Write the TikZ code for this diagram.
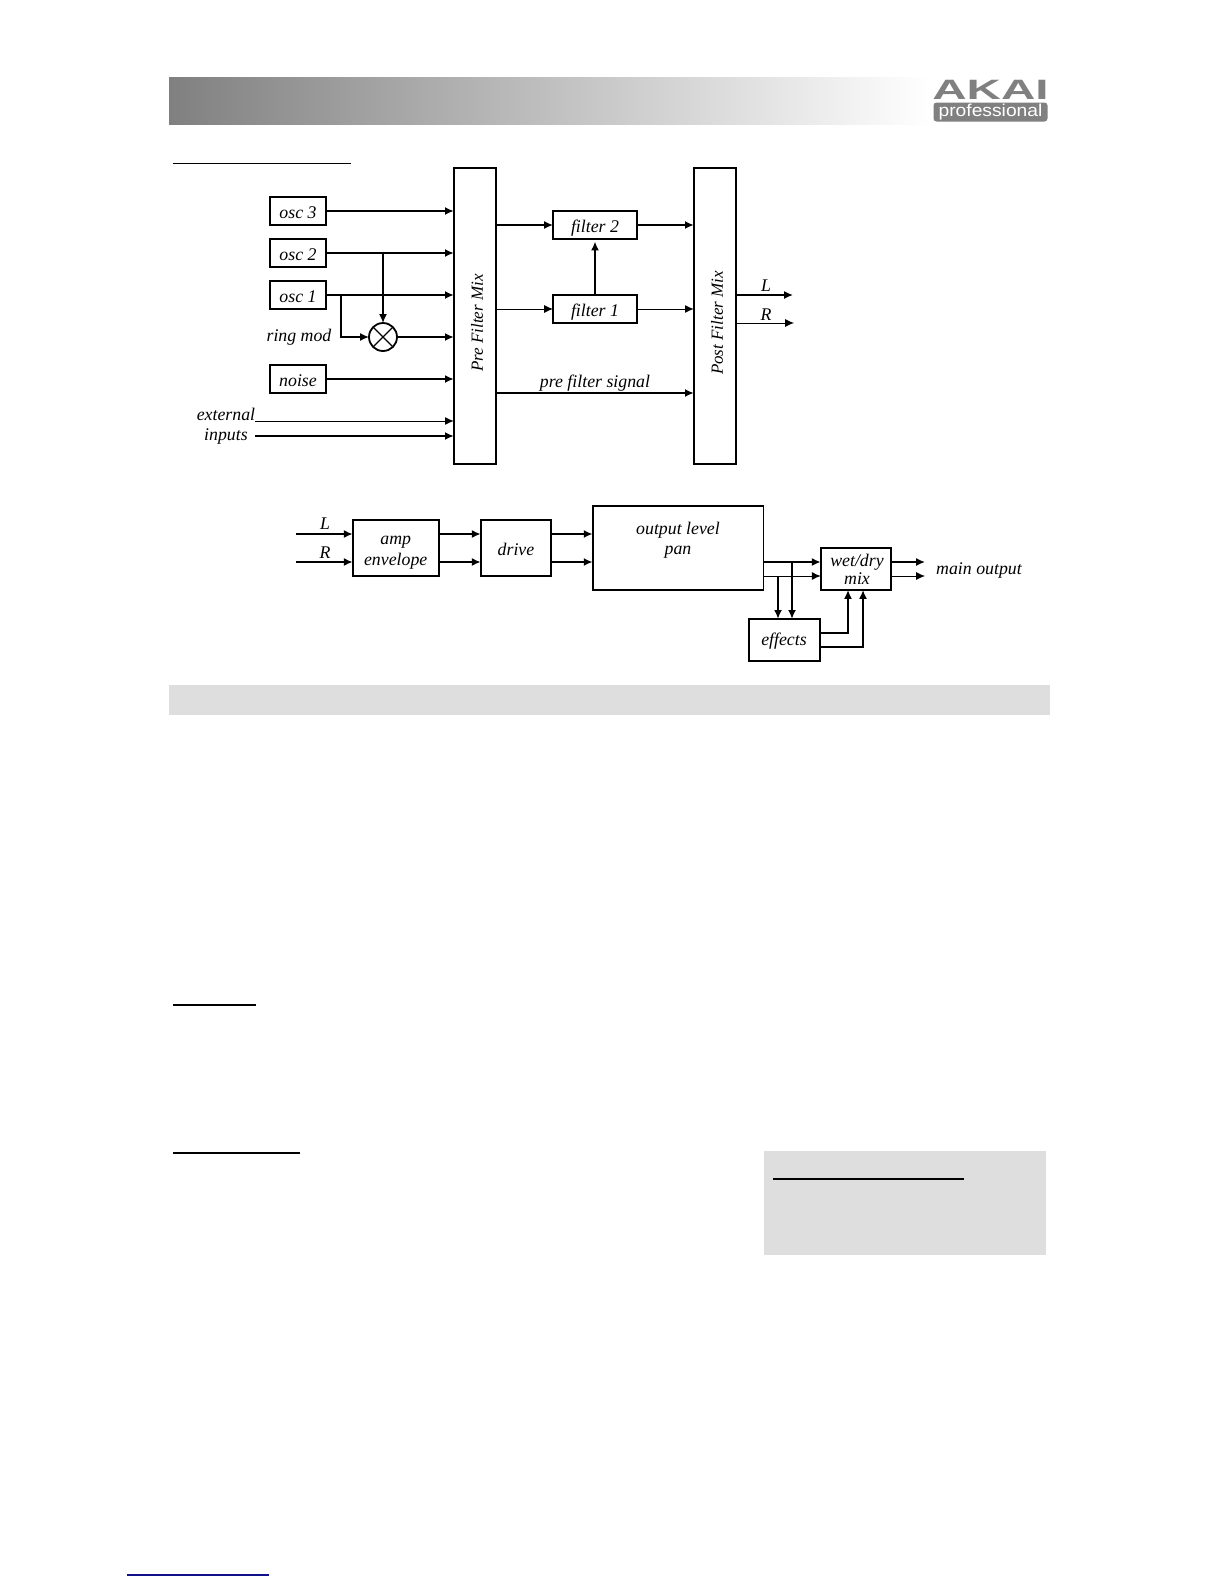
\documentclass[tikz,border=0pt]{standalone}
\usepackage{fontspec}
\usepackage{graphicx}
\setmainfont{Liberation Serif}
\newfontfamily\logofont{Liberation Sans}
\usetikzlibrary{arrows.meta}
\definecolor{bandgray}{HTML}{DEDEDE}
\definecolor{logogray}{HTML}{808080}
\definecolor{linkblue}{HTML}{10108A}
\tikzset{
  tag/.style={inner sep=0pt, align=center, font=\fontsize{8.9bp}{10bp}\selectfont\itshape},
  sidetag/.style={tag, rotate=90, font=\fontsize{8.5bp}{10bp}\selectfont\itshape},
  blockbox/.style={draw, line width=0.9bp, inner sep=0pt, outer sep=0pt, align=center, font=\fontsize{8.9bp}{10bp}\selectfont\itshape},
  oscbox/.style={blockbox, minimum width=28.2bp, minimum height=14.2bp, text height=7.4bp, text depth=0pt},
  filterbox/.style={blockbox, minimum width=42bp, minimum height=14.2bp, text height=7.7bp, text depth=0pt},
  mixbox/.style={blockbox, minimum width=21.2bp, minimum height=148.2bp},
  sigthick/.style={line width=0.85bp, -{Latex[length=4.4bp,width=4bp]}},
  sigthin/.style={line width=0.5bp, -{Latex[length=4.4bp,width=4bp]}},
  rulebar/.style={line width=0.6bp}
}
\begin{document}
\begin{tikzpicture}[x=0.5bp, y=-0.5bp]

  \useasboundingbox (0,0) rectangle (1224,1584);

  % Page furniture
  \shade[left color=logogray, right color=white] (169,77) rectangle (930,124);
  \fill[bandgray] (169,685) rectangle (1050,715);
  \fill[bandgray] (764,1151) rectangle (1046,1255);
  \draw[rulebar] (173,163.5) -- (351,163.5);
  \draw[rulebar] (173,1005) -- (256,1005);
  \draw[rulebar] (173,1153) -- (300,1153);
  \draw[rulebar] (773,1179) -- (964,1179);
  \draw[rulebar, linkblue] (127,1575) -- (269,1575);

  % Logo
  \node[inner sep=0pt, text=logogray, font=\logofont\bfseries\fontsize{14bp}{14bp}\selectfont] (akai) at (990.5,90) {\scalebox{1.7}[1]{AKAI}};
  \node[fill=logogray, rounded corners=1.5bp, inner sep=0pt, minimum width=57bp, minimum height=9.5bp, text=white, font=\logofont\fontsize{8.6bp}{8.6bp}\selectfont] (pro) at (990.5,112) {\scalebox{1.12}[1]{professional}};

  % Upper signal path
  \node[oscbox] (osc3) at (298,211) {osc 3};
  \node[oscbox] (osc2) at (298,253) {osc 2};
  \node[oscbox] (osc1) at (298,295) {osc 1};
  \node[oscbox] (noise) at (298,379) {noise};

  \node[blockbox, circle, minimum size=14bp] (ring) at (383,337) {};
  \node[tag] (ringtag) at (299,337) {ring mod};
  \node[tag] (exttag) at (226,414) {external};
  \node[tag] (inptag) at (226,436) {inputs};

  \node[mixbox] (premix) at (475,316) {};
  \node[mixbox] (postmix) at (715,316) {};
  \node[sidetag] (pretag) at (477,323) {Pre Filter Mix};
  \node[sidetag] (posttag) at (717,323) {Post Filter Mix};

  \node[filterbox] (filter2) at (595,225) {filter 2};
  \node[filterbox] (filter1) at (595,309) {filter 1};
  \node[tag] (pretext) at (595,383) {pre filter signal};

  \node[tag] (ltag) at (766,286) {L};
  \node[tag] (rtag) at (766,315) {R};

  \coordinate (oscbranch) at (341,295);
  \coordinate (extin) at (255,421);
  \coordinate (inpin) at (255,436);
  \coordinate (lout) at (793,295);
  \coordinate (rout) at (794,323);
  \coordinate (sigout) at (496,393);

  % Arrows
  \draw[sigthick] (osc3.east) -- (osc3 -| premix.west);
  \draw[sigthick] (osc2.east) -- (osc2 -| premix.west);
  \draw[sigthick] (osc1.east) -- (osc1 -| premix.west);
  \draw[sigthick] (noise.east) -- (noise -| premix.west);
  \draw[sigthick] (osc2 -| ring.north) -- (ring.north);
  \draw[sigthick] (oscbranch) |- (ring.west);
  \draw[sigthick] (ring.east) -- (ring -| premix.west);
  \draw[line width=0.6bp] (ring.north west) -- (ring.south east);
  \draw[line width=0.6bp] (ring.north east) -- (ring.south west);
  \draw[sigthin] (extin) -- (extin -| premix.west);
  \draw[sigthick] (inpin) -- (inpin -| premix.west);

  \draw[sigthick] (filter2 -| premix.east) -- (filter2.west);
  \draw[sigthin] (filter1 -| premix.east) -- (filter1.west);
  \draw[sigthick] (filter2.east) -- (filter2 -| postmix.west);
  \draw[sigthin] (filter1.east) -- (filter1 -| postmix.west);
  \draw[sigthick, shorten >=1.2bp] (filter1.north) -- (filter2.south);
  \draw[sigthick] (sigout) -- (sigout -| postmix.west);
  \draw[sigthick] (lout -| postmix.east) -- (lout);
  \draw[sigthin] (rout -| postmix.east) -- (rout);

  % Lower signal path
  \node[blockbox, minimum width=43bp, minimum height=28.3bp] (amp) at (395.7,548) {};
  \node[blockbox, minimum width=35.3bp, minimum height=28.3bp] (drive) at (516,548) {};
  \node[blockbox, minimum width=85.4bp, minimum height=42.2bp] (level) at (678,548) {};
  \node[blockbox, minimum width=35.3bp, minimum height=21.3bp] (wetdry) at (856,569) {};
  \node[blockbox, minimum width=35.6bp, minimum height=21.2bp] (effects) at (784.4,640) {};

  \node[tag] (amptag) at (395.7,552.5) {amp\\[0.2bp]envelope};
  \node[tag] (drivetag) at (516,549) {drive};
  \node[tag] (efftag) at (784,641) {effects};
  \node[tag] (leveltag) at (678,540) {output level\\[0.2bp]pan};
  \node[tag] (wettag) at (857,569) {wet/dry\\[-1bp]mix};
  \node[tag] (maintag) at (979,570.5) {main output};
  \node[tag] (inltag) at (325,524) {L};
  \node[tag] (inrtag) at (325,553) {R};

  \coordinate (inl) at (296,534);
  \coordinate (inr) at (296,562);
  \coordinate (lvll) at (763.4,562);
  \coordinate (lvlr) at (763.4,576);
  \coordinate (mainl) at (925,562);
  \coordinate (mainr) at (925,576);
  \coordinate (fxa) at (778,576);
  \coordinate (fxb) at (792,562);
  \coordinate (wetl) at (848,590);
  \coordinate (wetr) at (863,590);
  \coordinate (fxouta) at (820.7,633);
  \coordinate (fxoutb) at (820.7,647);

  % Arrows
  \draw[sigthick] (inl) -- (inl -| amp.west);
  \draw[sigthick] (inr) -- (inr -| amp.west);
  \draw[sigthick] (inl -| amp.east) -- (inl -| drive.west);
  \draw[sigthick] (inr -| amp.east) -- (inr -| drive.west);
  \draw[sigthick] (inl -| drive.east) -- (inl -| level.west);
  \draw[sigthick] (inr -| drive.east) -- (inr -| level.west);
  \draw[sigthick] (lvll) -- (lvll -| wetdry.west);
  \draw[sigthin] (lvlr) -- (lvlr -| wetdry.west);
  \draw[sigthick] (lvll -| wetdry.east) -- (mainl);
  \draw[sigthin] (lvlr -| wetdry.east) -- (mainr);
  \draw[sigthick] (fxa) -- (fxa |- effects.north);
  \draw[sigthick] (fxb) -- (fxb |- effects.north);
  \draw[sigthick] (fxouta) -| (wetl);
  \draw[sigthick] (fxoutb) -| (wetr);

\end{tikzpicture}
\end{document}
